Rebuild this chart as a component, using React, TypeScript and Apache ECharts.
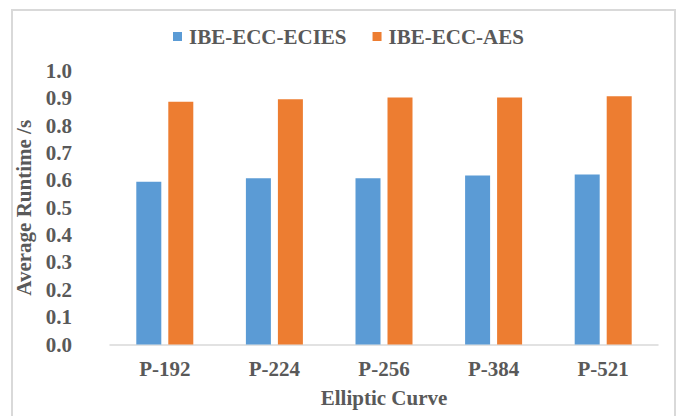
import React, { useEffect, useRef } from "react";
import * as echarts from "echarts";

const categories = ["P-192", "P-224", "P-256", "P-384", "P-521"];
const eciesValues = [0.595, 0.608, 0.608, 0.618, 0.622];
const aesValues = [0.888, 0.897, 0.903, 0.903, 0.908];
const seriesNames = ["IBE-ECC-ECIES", "IBE-ECC-AES"];

const FONT = "'Liberation Serif', 'Times New Roman', serif";
const TEXT = "#595959";
const FS = 21;

export default function App() {
  const ref = useRef<HTMLDivElement>(null);
  useEffect(() => {
    document.body.style.margin = "0";
    if (!ref.current) return;
    const chart = echarts.init(ref.current, undefined, { renderer: "svg" });
    chart.setOption({
      animation: false,
      backgroundColor: "#ffffff",
      textStyle: { fontFamily: FONT },
      graphic: [
        {
          type: "rect",
          shape: { x: 12, y: 10, width: 663, height: 420 },
          style: { fill: "none", stroke: "#d9d9d9", lineWidth: 2 },
          silent: true,
        },
      ],
      legend: {
        data: seriesNames,
        left: 168,
        top: 21,
        itemWidth: 9,
        itemHeight: 9,
        itemGap: 26,
        icon: "rect",
        textStyle: { fontFamily: FONT, fontSize: FS, fontWeight: "bold", color: TEXT, padding: [0, 0, 0, 2] },
      },
      grid: { left: 110, right: 21, top: 71, bottom: 71.5, containLabel: false },
      xAxis: {
        type: "category",
        data: categories,
        name: "Elliptic Curve",
        nameLocation: "middle",
        nameGap: 43,
        nameTextStyle: { fontFamily: FONT, fontSize: FS, fontWeight: "bold", color: TEXT },
        axisLine: { show: true, lineStyle: { color: "#d9d9d9", width: 1.5 } },
        axisTick: { show: false },
        axisLabel: { fontFamily: FONT, fontSize: FS, fontWeight: "bold", color: TEXT, margin: 14 },
        splitLine: { show: false },
      },
      yAxis: {
        type: "value",
        min: 0,
        max: 1,
        interval: 0.1,
        name: "Average Runtime /s",
        nameLocation: "middle",
        nameGap: 75,
        nameTextStyle: { fontFamily: FONT, fontSize: FS, fontWeight: "bold", color: TEXT },
        axisLine: { show: false },
        axisTick: { show: false },
        splitLine: { show: false },
        axisLabel: {
          fontFamily: FONT,
          fontSize: FS,
          fontWeight: "bold",
          color: TEXT,
          margin: 38,
          formatter: (v: number) => v.toFixed(1),
        },
      },
      series: [
        {
          name: seriesNames[0],
          type: "bar",
          data: eciesValues,
          barWidth: 25,
          barGap: "28%",
          itemStyle: { color: "#5b9bd5" },
        },
        {
          name: seriesNames[1],
          type: "bar",
          data: aesValues,
          barWidth: 25,
          barGap: "28%",
          itemStyle: { color: "#ed7d31" },
        },
      ],
    });
    return () => chart.dispose();
  }, []);
  return <div ref={ref} style={{ width: 679, height: 416 }} />;
}
